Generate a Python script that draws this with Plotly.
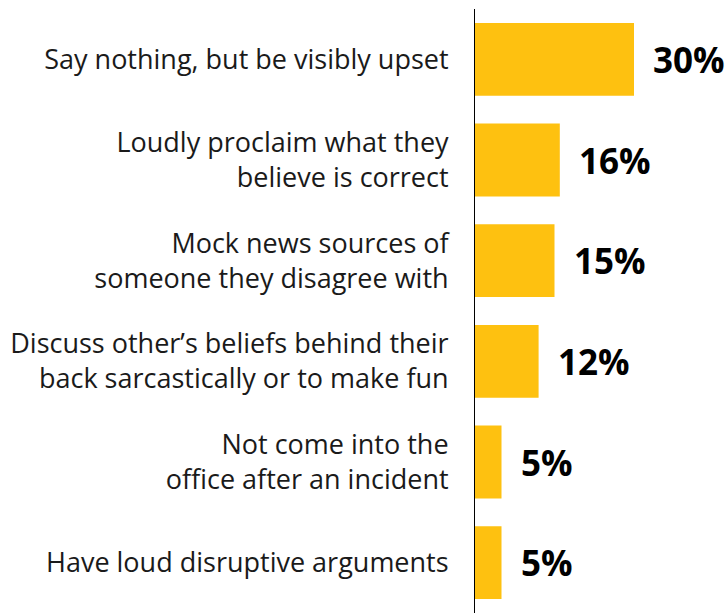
import plotly.graph_objects as go

# Survey responses, top to bottom
categories = [
    "Say nothing, but be visibly upset",
    "Loudly proclaim what they<br>believe is correct",
    "Mock news sources of<br>someone they disagree with",
    "Discuss other\u2019s beliefs behind their<br>back sarcastically or to make fun",
    "Not come into the<br>office after an incident",
    "Have loud disruptive arguments",
]
percentages = [30, 16, 15, 12, 5, 5]

BAR_COLOR = "#FEC110"
TEXT_COLOR = "#1a1a1a"

fig = go.Figure(
    go.Bar(
        x=percentages,
        y=categories,
        orientation="h",
        marker=dict(color=BAR_COLOR, line=dict(width=0)),
        hoverinfo="skip",
    )
)

# Bold value labels to the right of each bar
for cat, val in zip(categories, percentages):
    fig.add_annotation(
        x=val,
        y=cat,
        text=f"<b>{val}%</b>",
        showarrow=False,
        xanchor="left",
        yanchor="middle",
        xshift=17,
        font=dict(family="Open Sans", size=35, color="#000000"),
    )

fig.update_layout(
    width=727,
    height=613,
    margin=dict(l=475, r=0, t=9, b=0),
    paper_bgcolor="white",
    plot_bgcolor="white",
    bargap=0.276,
    showlegend=False,
    font=dict(family="Open Sans", size=27, color=TEXT_COLOR),
    xaxis=dict(
        range=[0, 252 / 5.3],
        visible=False,
        showgrid=False,
        zeroline=False,
    ),
    yaxis=dict(
        categoryorder="array",
        categoryarray=categories[::-1],
        range=[-0.5, 5.5],
        showline=True,
        linecolor="#000000",
        linewidth=1,
        showgrid=False,
        zeroline=False,
        ticks="",
        ticklabelstandoff=20,
        tickfont=dict(family="Open Sans", size=27, color=TEXT_COLOR),
    ),
)

fig.write_html("out.html")
